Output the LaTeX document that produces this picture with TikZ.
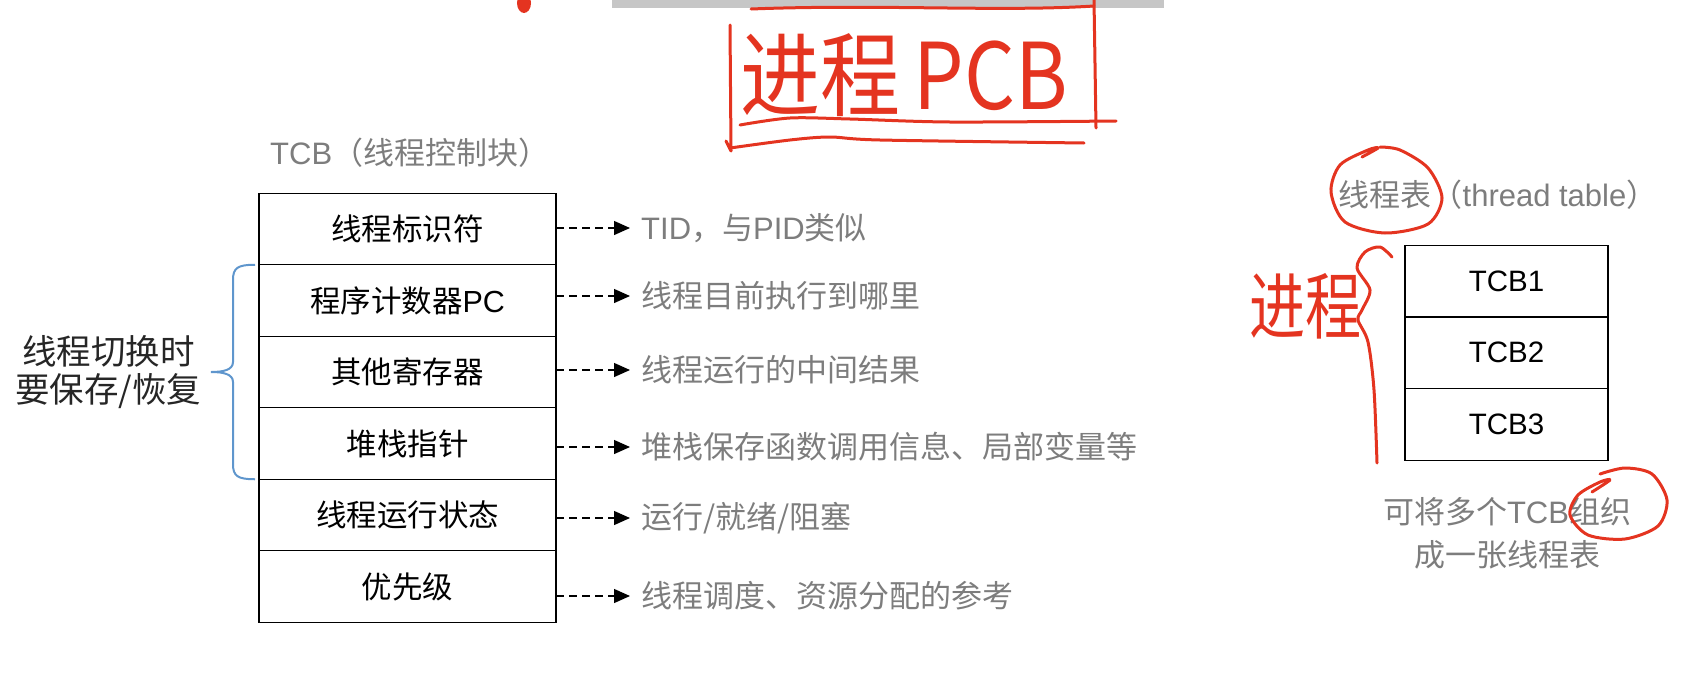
\documentclass[tikz,border=0pt]{standalone}
\usepackage{fontspec}
\setmainfont{Noto Sans CJK SC}
\newfontfamily\lat{Liberation Sans}
\usetikzlibrary{arrows.meta, positioning, calc}
\definecolor{notegray}{RGB}{125,125,125}
\definecolor{bracecolor}{RGB}{95,150,205}
\definecolor{penred}{RGB}{228,52,32}
\tikzset{
  field/.style={draw, line width=1.3pt, outer sep=0pt, inner sep=0pt, minimum width=297pt, minimum height=71.5pt, font=\fontsize{30.5}{34}\selectfont},
  entry/.style={draw, line width=1.3pt, outer sep=0pt, inner sep=0pt, minimum width=203pt, minimum height=71.7pt, font=\lat\fontsize{29.5}{32}\selectfont},
  note/.style={text=notegray, inner sep=0pt, font=\fontsize{31}{36}\selectfont},
  dasharrow/.style={line width=1.3pt, dash pattern=on 7.5pt off 5.5pt, shorten >=11pt, -{Triangle[length=16pt,width=14pt]}},
  curly/.style={bracecolor, line width=2pt},
  pen/.style={penred, line width=3pt, line cap=round, line join=round},
}
\begin{document}
\begin{tikzpicture}[x=1pt, y=-1pt]
\useasboundingbox (0,0) rectangle (1683,672);

% top of the cut slide
\fill[gray!45] (612,0) rectangle (1164,8);
\fill[penred] (524,3) ellipse [x radius=7pt, y radius=10pt];

% TCB fields
\node (tcbtitle) [note, anchor=west] at (270,153) {{\lat TCB}（线程控制块）};
\node (f1) [field] at (407.5,229) {线程标识符};
\node (f2) [field, below=0pt of f1] {程序计数器{\lat PC}};
\node (f3) [field, below=0pt of f2] {其他寄存器};
\node (f4) [field, below=0pt of f3] {堆栈指针};
\node (f5) [field, below=0pt of f4] {线程运行状态};
\node (f6) [field, below=0pt of f5] {优先级};

% descriptions
\node (d1) [note, anchor=west] at (641,228) {{\lat TID}，与{\lat PID}类似};
\node (d2) [note, anchor=west] at (641,296) {线程目前执行到哪里};
\node (d3) [note, anchor=west] at (641,370) {线程运行的中间结果};
\node (d4) [note, anchor=west] at (641,447) {堆栈保存函数调用信息、局部变量等};
\node (d5) [note, anchor=west] at (641,518) {运行/就绪/阻塞};
\node (d6) [note, anchor=west] at (641,596) {线程调度、资源分配的参考};
\foreach \i in {1,...,6}
  \draw[dasharrow] (f\i.east |- d\i.west) -- (d\i.west);

% brace over the saved fields
\coordinate (bracetop) at ([xshift=-4pt]f2.north west);
\coordinate (bracebot) at ([xshift=-4pt]f4.south west);
\draw[curly] (bracetop) .. controls ($(bracetop)+(-17,0)$) and ($(bracetop)+(-22,3)$) .. ($(bracetop)+(-22,15)$)
  -- ($(bracetop)!0.5!(bracebot)+(-22,-10)$)
  .. controls ($(bracetop)!0.5!(bracebot)+(-22,-2)$) and ($(bracetop)!0.5!(bracebot)+(-32,0)$) .. ($(bracetop)!0.5!(bracebot)+(-44,0)$) coordinate (bracetip)
  .. controls ($(bracetop)!0.5!(bracebot)+(-32,0)$) and ($(bracetop)!0.5!(bracebot)+(-22,2)$) .. ($(bracetop)!0.5!(bracebot)+(-22,10)$)
  -- ($(bracebot)+(-22,-15)$)
  .. controls ($(bracebot)+(-22,-3)$) and ($(bracebot)+(-17,0)$) .. (bracebot);
\node (savenote) [align=center, font=\fontsize{34.5}{38}\selectfont, text=black!85, left=6pt of bracetip] {线程切换时\\要保存/恢复};

% thread table
\node (ttitle) [note] at (1498,195) {线程表（{\lat thread table}）};
\node (t1) [entry] at (1506.5,281) {TCB1};
\node (t2) [entry, below=0pt of t1] {TCB2};
\node (t3) [entry, below=0pt of t2] {TCB3};
\node (tnote) [note, align=center, font=\fontsize{31}{43}\selectfont] at (1507,533) {可将多个{\lat TCB}组织\\成一张线程表};

% red pen notes
\node (pcbnote) [text=penred, inner sep=0pt, font=\fontsize{80}{80}\selectfont, yscale=1.15, transform shape] at (904,75) {进程\,PCB};
\draw[pen] (751,9) .. controls (880,4) and (1000,12) .. (1094,6);
\draw[pen] (1094,0) -- (1096,128);
\draw[pen] (730,25) -- (731,151) -- (726,141);
\draw[pen] plot[smooth] coordinates {(740,125) (790,118) (850,119) (950,122) (1116,121)};
\draw[pen] plot[smooth] coordinates {(730,148) (790,140) (830,137) (880,140) (1084,143)};

\draw[pen] plot[smooth] coordinates {(1362,157) (1378,148) (1368,150) (1340,165) (1331,192) (1345,222) (1385,233) (1428,224) (1442,198) (1428,168) (1400,150) (1380,147)};
\draw[pen] plot[smooth] coordinates {(1592,492) (1610,480) (1600,482) (1578,495) (1570,515) (1588,535) (1625,539) (1658,526) (1667,500) (1652,474) (1625,468) (1600,474)};

\node (procnote) [text=penred, inner sep=0pt, font=\fontsize{56}{56}\selectfont, yscale=1.3, transform shape] at (1305,306) {进程};
\draw[pen] plot[smooth] coordinates {(1392,257) (1380,247) (1365,252) (1357,268) (1370,290) (1362,310) (1358,320) (1368,342) (1374,390) (1377,463)};
\end{tikzpicture}
\end{document}
